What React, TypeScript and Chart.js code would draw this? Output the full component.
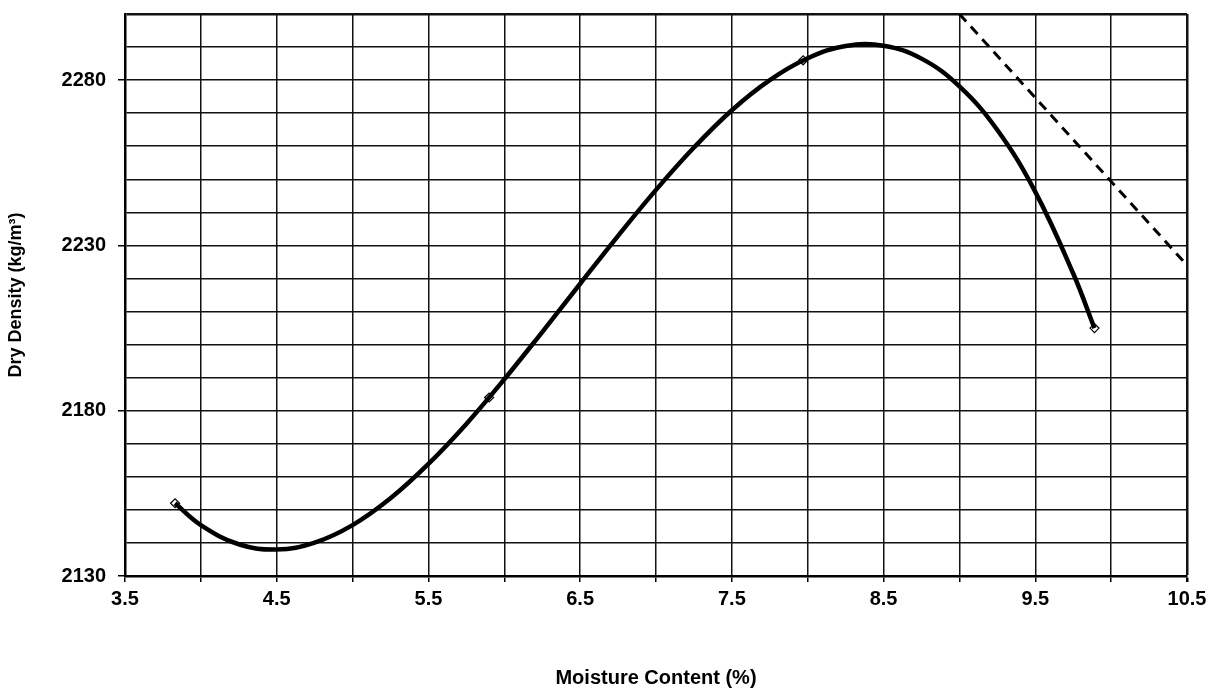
import React, { useEffect, useRef } from "react";
import { Chart, registerables } from "chart.js";

Chart.register(...registerables);

// Fitted compaction curve
const fitMoisture = [3.83, 4.0, 4.25, 4.5, 4.75, 5.0, 5.25, 5.5, 5.75, 6.0, 6.25, 6.5, 6.75, 7.0, 7.25, 7.5, 7.75, 8.0, 8.25, 8.5, 8.75, 9.0, 9.25, 9.5, 9.75, 9.89];
const fitDensity = [2152, 2145.4, 2139.6, 2138.0, 2140.1, 2145.4, 2153.5, 2163.9, 2176.0, 2189.5, 2203.8, 2218.4, 2232.9, 2246.8, 2259.6, 2270.9, 2280.0, 2286.6, 2290.3, 2290.4, 2286.5, 2278.1, 2264.9, 2246.2, 2221.5, 2205];

// Measured test points
const testMoisture = [3.83, 5.9, 7.97, 9.89];
const testDensity = [2152, 2184, 2286, 2205];

// Dashed (zero air voids) line
const zavMoisture = [9.0, 10.5];
const zavDensity = [2300, 2224];

// Axis labels
const xTickLabels = ["3.5", "4.5", "5.5", "6.5", "7.5", "8.5", "9.5", "10.5"];
const yTickLabels = [2130, 2180, 2230, 2280];
const xTitle = "Moisture Content (%)";
const yTitle = "Dry Density (kg/m³)";

const FONT = "'Liberation Sans', Arial, Helvetica, sans-serif";

const toXY = (xs: number[], ys: number[]) => xs.map((x, i) => ({ x, y: ys[i] }));

export default function App() {
  const ref = useRef<HTMLCanvasElement | null>(null);

  useEffect(() => {
    if (!ref.current) return;
    const chart = new Chart(ref.current, {
      type: "scatter",
      data: {
        datasets: [
          {
            label: "fit",
            data: toXY(fitMoisture, fitDensity),
            showLine: true,
            borderColor: "#000",
            borderWidth: 4.5,
            pointRadius: 0,
            tension: 0.4,
            fill: false,
            order: 0,
          },
          {
            label: "points",
            data: toXY(testMoisture, testDensity),
            showLine: false,
            pointStyle: "rectRot",
            pointRadius: 4.5,
            pointBackgroundColor: "#fff",
            pointBorderColor: "#000",
            pointBorderWidth: 1.2,
            order: 1,
          },
          {
            label: "zav",
            data: toXY(zavMoisture, zavDensity),
            showLine: true,
            borderColor: "#000",
            borderWidth: 3,
            borderDash: [10, 7],
            pointRadius: 0,
            fill: false,
            order: 2,
          },
        ],
      },
      options: {
        responsive: false,
        animation: false,
        layout: { padding: { top: 14, right: 30, left: 0, bottom: 0 } },
        plugins: { legend: { display: false }, tooltip: { enabled: false } },
        scales: {
          x: {
            type: "linear",
            min: 3.5,
            max: 10.5,
            afterFit: (s: any) => {
              s.height = 122;
              s.paddingLeft = 0;
              s.paddingRight = 0;
            },
            ticks: {
              stepSize: 0.5,
              autoSkip: false,
              maxRotation: 0,
              padding: 5,
              color: "#000",
              font: { family: FONT, size: 20, weight: "bold" },
              callback: (v: any) => {
                const t = Number(v).toFixed(1);
                return xTickLabels.includes(t) ? t : "";
              },
            },
            grid: {
              color: "#111",
              lineWidth: (c: any) => (c.tick && Math.abs(c.tick.value - 10.5) < 1e-6 ? 2.5 : 1.5),
              tickLength: 6,
              tickColor: "#000",
              drawTicks: true,
            },
            border: { color: "#000", width: 2.5 },
            title: {
              display: true,
              text: xTitle,
              color: "#000",
              font: { family: FONT, size: 20, weight: "bold" },
              padding: { top: 0, bottom: 8 },
            },
          },
          y: {
            type: "linear",
            min: 2130,
            max: 2300,
            afterFit: (s: any) => {
              s.width = 125;
              s.paddingTop = 0;
              s.paddingBottom = 0;
            },
            ticks: {
              stepSize: 10,
              autoSkip: false,
              padding: 12,
              color: "#000",
              font: { family: FONT, size: 20, weight: "bold" },
              callback: (v: any) => (yTickLabels.includes(Math.round(Number(v))) ? String(Math.round(Number(v))) : ""),
            },
            grid: {
              color: "#111",
              lineWidth: (c: any) => (c.tick && Math.abs(c.tick.value - 2300) < 1e-6 ? 2.5 : 1.5),
              tickLength: 7,
              tickColor: (c: any) =>
                c.tick && yTickLabels.includes(Math.round(c.tick.value)) ? "#000" : "rgba(0,0,0,0)",
              drawTicks: true,
            },
            border: { color: "#000", width: 2.5 },
            title: {
              display: true,
              text: yTitle,
              color: "#000",
              font: { family: FONT, size: 18, weight: "bold" },
              padding: { top: 5, bottom: 0 },
            },
          },
        },
      },
    });
    return () => chart.destroy();
  }, []);

  return (
    <div style={{ position: "absolute", left: 0, top: 0, width: 1217, height: 698, background: "#fff" }}>
      <canvas ref={ref} width={1217} height={698} style={{ display: "block" }} />
    </div>
  );
}
